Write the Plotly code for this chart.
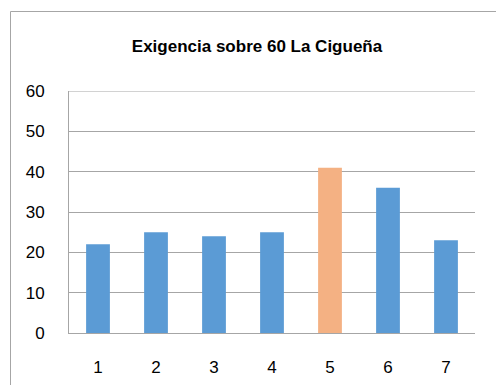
import plotly.graph_objects as go

categories = ["1", "2", "3", "4", "5", "6", "7"]
values = [22, 25, 24, 25, 41, 36, 23]
bar_colors = ["#5B9BD5", "#5B9BD5", "#5B9BD5", "#5B9BD5", "#F4B183", "#5B9BD5", "#5B9BD5"]
y_ticks = [0, 10, 20, 30, 40, 50, 60]

W, H = 496, 385
L, R, T, B = 69, 21, 91, 52
pw, ph = W - L - R, H - T - B

def px_x(x):
    return (x - L) / pw

def px_y(y):
    return (H - B - y) / ph

fig = go.Figure(
    go.Bar(
        x=categories,
        y=values,
        marker=dict(color=bar_colors, line=dict(width=0)),
        hoverinfo="x+y",
    )
)

grid = "#A6A6A6"

fig.update_layout(
    width=W,
    height=H,
    margin=dict(l=L, r=R, t=T, b=B, autoexpand=False),
    paper_bgcolor="white",
    plot_bgcolor="white",
    bargap=0.59,
    showlegend=False,
    font=dict(family="Liberation Sans, Arial, sans-serif", size=17, color="#000000"),
    title=dict(
        text="<b>Exigencia sobre 60 La Cigueña</b>",
        x=257 / W,
        xanchor="center",
        y=1 - 46 / H,
        yanchor="middle",
        xref="container",
        yref="container",
        font=dict(family="Liberation Sans, Arial, sans-serif", size=17, color="#000000"),
    ),
    xaxis=dict(
        type="category",
        automargin=False,
        showgrid=False,
        showline=True,
        linecolor=grid,
        linewidth=1,
        ticks="",
        ticklabelstandoff=19,
        tickfont=dict(size=17),
    ),
    yaxis=dict(
        range=[0, 60],
        tickvals=y_ticks,
        automargin=False,
        showgrid=True,
        gridcolor=grid,
        gridwidth=1,
        zeroline=False,
        showline=True,
        linecolor=grid,
        linewidth=1,
        ticks="",
        ticklabelstandoff=20,
        tickfont=dict(size=17),
    ),
    shapes=[
        # outer chart frame
        dict(
            type="rect",
            xref="paper",
            yref="paper",
            x0=px_x(10.5),
            x1=px_x(510),
            y0=px_y(400),
            y1=px_y(11.5),
            line=dict(color=grid, width=1),
            fillcolor="rgba(0,0,0,0)",
            layer="below",
        ),
        # top gridline at the axis maximum
        dict(
            type="line",
            xref="paper",
            yref="y",
            x0=0,
            x1=1,
            y0=y_ticks[-1],
            y1=y_ticks[-1],
            line=dict(color=grid, width=1),
            layer="below",
        ),
    ],
)

fig.write_html("out.html")
